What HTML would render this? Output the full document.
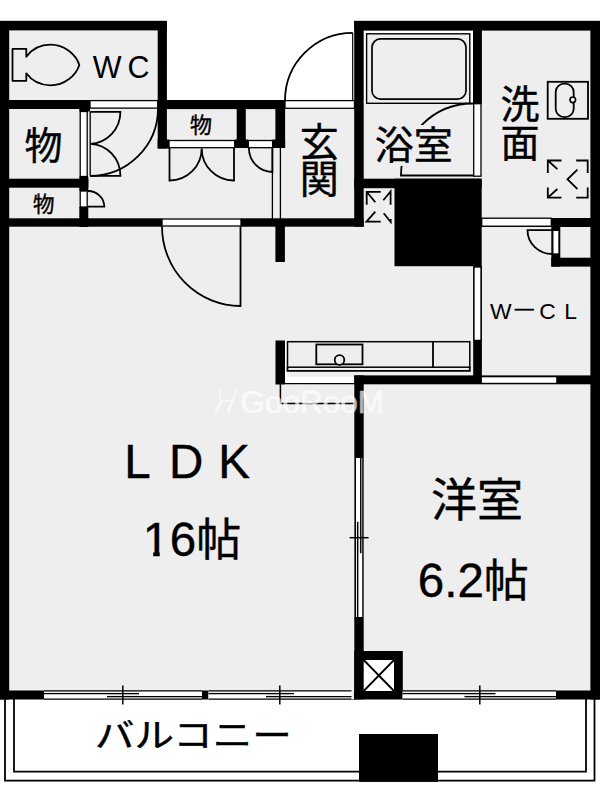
<!DOCTYPE html>
<html lang="ja">
<head>
<meta charset="utf-8">
<title>間取り図</title>
<style>
html,body{margin:0;padding:0;background:#fff;}
body{width:600px;height:803px;overflow:hidden;}
svg{display:block;}
text{font-family:"Liberation Sans","Noto Sans CJK JP",sans-serif;fill:#000;font-weight:400;stroke:#000;stroke-width:0.4px;}
.k{fill:#000;}
.g{fill:#eeeeee;}
.w{fill:#fff;stroke:#000;stroke-width:1.3;}
.l{fill:none;stroke:#000;stroke-width:1.2;}
.t{fill:none;stroke:#000;stroke-width:1.2;}
.a{fill:none;stroke:#000;stroke-width:1.8;}
</style>
</head>
<body>
<svg width="600" height="803" viewBox="0 0 600 803">
<!-- floor fill -->
<path class="g" d="M0 21H166V100H354.5V21H600V699H0Z"/>


<!-- ===== fixtures ===== -->
<g class="a" id="fixtures">
<!-- toilet -->
<path d="M26.3 56.7V48.8H12.5V80.8H26.3V73.3C32 81 41 85.3 50.5 85.3C64 85.3 76 76 79.3 65C76 54 64 44.7 50.5 44.7C41 44.7 32 49 26.3 56.7Z" style="stroke-width:1.8;stroke-linejoin:round"/>
<!-- bathtub -->
<rect x="363" y="30" width="110.5" height="74" style="fill:#fff;stroke:none"/>
<rect x="366.6" y="33.8" width="103.2" height="69.5" style="fill:#eeeeee;stroke-width:1.4"/>
<rect x="372" y="38.8" width="94" height="60.4" rx="8.5" ry="8.5" style="stroke-width:1.7"/>
<!-- wash basin -->
<rect x="547.7" y="81.8" width="40.3" height="37" style="stroke-width:1.8"/>
<rect x="555.7" y="83.7" width="18" height="33.5" rx="8.5" ry="8.5" style="stroke-width:1.8"/>
<circle cx="572.8" cy="99.8" r="2.8" style="fill:#eeeeee;stroke-width:1.6"/>
<!-- washing machine pan -->
<g style="stroke-width:1.8">
<path d="M561.5 160.5H547.8V173M547.8 160.5L557.4 169.2"/>
<path d="M576.2 160.5H587.7V173"/>
<path d="M561.5 197.7H547.8V187.6M547.8 197.7L557.4 189"/>
<path d="M576.2 197.7H587.7V187.6"/>
<path d="M577.4 169.7L567.5 179.3L577.4 189"/>
</g>
<!-- PS arrows -->
<path d="M380.7 191.8H366.7V204.7M366.7 191.8L375.3 202.3"/>
<path d="M390.6 204.7V191.5L383.3 200.3"/>
<path d="M380.7 221.6H366.5L375.3 211.7"/>
<path d="M390.7 219V222L383.7 213.3"/>
</g>
<!-- kitchen -->
<g id="kitchen">
<rect x="284.7" y="341" width="3" height="43" fill="#fff"/>
<rect x="284.7" y="377" width="70" height="6.7" fill="#fff"/>
<path class="t" d="M284.7 383.6H354.5"/>
<rect x="287.5" y="341.7" width="182.3" height="25.5" class="g" style="stroke:#000;stroke-width:1.5"/>
<path class="a" d="M287.5 367V370.8H469.8V367"/>
<path class="a" d="M433 341.7V367"/>
<rect class="a" x="316.3" y="344.5" width="46.2" height="19.8"/>
<circle class="a" cx="339.5" cy="360" r="4.8" style="fill:#eeeeee"/>
<path class="t" style="stroke-width:1.5" d="M280.4 384V403.4H354.5"/>
</g>
<!-- ===== walls ===== -->
<g class="k" id="walls">
<rect x="0" y="20.8" width="166.9" height="9.6"/>
<rect x="0" y="21" width="9.2" height="678.5"/>
<rect x="157.7" y="21" width="9.2" height="127.5"/>
<rect x="0" y="100" width="90" height="9"/>
<rect x="79.3" y="108" width="10.7" height="3.5"/>
<rect x="157.7" y="100" width="127.4" height="9.1"/>
<rect x="157.7" y="139.5" width="11.3" height="9"/>
<rect x="234.7" y="139.5" width="13.6" height="8.5"/>
<rect x="272.6" y="139.5" width="12.5" height="8.5"/>
<rect x="236.7" y="100" width="9.1" height="48"/>
<rect x="275.4" y="100" width="9.7" height="48"/>
<rect x="354.2" y="21" width="9.5" height="205.7"/>
<rect x="354.2" y="20.8" width="245.8" height="9.8"/>
<rect x="590.4" y="21" width="9.6" height="678.5"/>
<rect x="473" y="21" width="8.9" height="82.8"/>
<rect x="354.3" y="178.7" width="127.4" height="9.5"/>
<rect x="394.5" y="178.7" width="87.2" height="87.5"/>
<rect x="0" y="218.3" width="162" height="8.4"/>
<rect x="241" y="218.3" width="122.7" height="8.4"/>
<rect x="0" y="178.7" width="88.3" height="9"/>
<rect x="79.3" y="176.5" width="9" height="14.5"/>
<rect x="79.3" y="207" width="9" height="20"/>
<rect x="275.4" y="226" width="9.5" height="36"/>
<rect x="275.5" y="340.5" width="9.5" height="44"/>
<rect x="354.3" y="375.4" width="245.7" height="8.9"/>
<rect x="354.3" y="375.4" width="9.4" height="324"/>
<rect x="473.2" y="266" width="8.7" height="118"/>
<rect x="481.5" y="218" width="118.5" height="9"/>
<rect x="551.3" y="218" width="9" height="48.6"/>
<rect x="551.3" y="257.7" width="48.7" height="8.9"/>
<rect x="0" y="690.5" width="44" height="9"/>
<rect x="202" y="690.5" width="6.6" height="9"/>
<rect x="354.3" y="651" width="48.5" height="48.5"/>
<rect x="351.5" y="691" width="4" height="8.5"/>
<rect x="556" y="690.5" width="44" height="9"/>
<rect x="359" y="734" width="79" height="47.6"/>
</g>

<!-- ===== door strips / thresholds (white) ===== -->
<g class="w" id="strips">
<rect x="90" y="100.6" width="67.7" height="7.5"/>
<rect x="285" y="100.6" width="69.5" height="7.7"/>
<rect x="169" y="140.5" width="65.7" height="7.2"/>
<rect x="248.3" y="140.5" width="24.3" height="7.2"/>
<rect x="80.2" y="111.5" width="7" height="65"/>
<rect x="80.2" y="191" width="7" height="16"/>
<rect x="162" y="219" width="79" height="7"/>
<rect x="473.7" y="103.7" width="7.3" height="72.5"/>
<rect x="474" y="267" width="7" height="73.4"/>
<rect x="481.7" y="218.2" width="69.6" height="8"/>
<rect x="552.8" y="230.3" width="6.2" height="23.7"/>
<rect x="481.9" y="377.3" width="74.3" height="5.5" style="stroke:none"/>
</g>

<!-- ===== door swings ===== -->
<g class="a" id="doors">
<!-- WC door -->
<path d="M158 108.5A68 67.5 0 0 1 90 176"/>
<!-- big closet double door -->
<path d="M90.2 111.8V175.8" style="stroke-width:1.3"/>
<path d="M90.2 111.8H120.4A31 32 0 0 1 90.2 143.8A31 32 0 0 1 120.4 175.8H90.2"/>
<!-- small closet door -->
<path d="M88 206.7H104.3A16.3 15.7 0 0 0 88 191"/>
<!-- hall closet double doors -->
<path d="M169.5 148V180.5A32 32 0 0 0 201.7 148.5A32 32 0 0 0 234 180.5V148"/>
<path d="M272.4 148V172A23.5 24 0 0 1 248.9 148"/>
<!-- entrance door -->
<path d="M352.7 100.5V32.8" style="stroke-width:1.2"/>
<path d="M352.7 32.8A67.7 67.7 0 0 0 285 100.5"/>
<!-- LDK door -->
<path d="M240.5 226.5V306A78.5 79.5 0 0 1 162 226.5"/>
<!-- bath door -->
<path d="M473 103.5A72 72 0 0 0 401 175.5H473.5"/>
<!-- PS door -->
<path d="M552.5 230.2H527.5A25 23.8 0 0 0 552.5 254"/>
</g>
<!-- thin partition lines near entrance -->
<g class="t">
<path style="stroke-width:1.3" d="M272.4 148V219M280.4 148V219"/>
</g>

<!-- ===== windows ===== -->
<g id="windows">
<rect x="44" y="690.8" width="158" height="8.2" class="g"/>
<rect x="44" y="693.5" width="63" height="5.5" fill="#fff"/>
<rect x="139" y="690.8" width="63" height="5.7" fill="#fff"/>
<path class="t" style="stroke-width:1.25" d="M44 690.9H202M44 699H202M44 693.5H139M107 696.5H202"/>
<path class="t" style="stroke-width:1.5" d="M122.8 685.5V704.5"/>
<rect x="208.6" y="690.8" width="145.4" height="8.2" class="g"/>
<rect x="208.6" y="693.5" width="57.4" height="5.5" fill="#fff"/>
<rect x="294" y="690.8" width="57.5" height="5.7" fill="#fff"/>
<path class="t" style="stroke-width:1.25" d="M208.6 690.9H351.5M208.6 699H351.5M208.6 693.5H294M266 696.5H351.5"/>
<path class="t" style="stroke-width:1.5" d="M279.8 685.5V704.5"/>
<rect x="402.7" y="690.8" width="153.3" height="8.2" class="g"/>
<rect x="402.7" y="693.5" width="61.80000000000001" height="5.5" fill="#fff"/>
<rect x="495.5" y="690.8" width="60.5" height="5.7" fill="#fff"/>
<path class="t" style="stroke-width:1.25" d="M402.7 690.9H556M402.7 699H556M402.7 693.5H495.5M464.5 696.5H556"/>
<path class="t" style="stroke-width:1.5" d="M479.8 685.5V704.5"/>
<!-- pillar X -->
<rect x="363.7" y="660" width="30.3" height="31" fill="#fff"/>
<path class="a" d="M363.7 660L394 691M394 660L363.7 691"/>
<!-- sliding door LDK / bedroom -->
<rect x="354.5" y="458" width="9.3" height="159" class="g"/>
<rect x="355.3" y="458" width="5.4" height="64" fill="#fff"/>
<rect x="357.7" y="553" width="5" height="64" fill="#fff"/>
<g class="t" style="stroke-width:1.4">
<path d="M355.3 458V617M362.9 458V617M360.75 458V553.3M357.7 521.8V617"/>
<path style="stroke-width:1.5" d="M349.6 537.7H368.6"/>
</g>
</g>
<!-- ===== balcony ===== -->
<g class="a" id="balcony">
<path d="M5 699V780.7H594.5V699"/>
<path d="M14 699V771.7H586V699"/>
</g>
<rect class="k" x="359" y="734" width="79" height="47.6"/>

<!-- ===== labels ===== -->
<g id="labels">
<text x="92.8" y="77.7" font-size="30.5" style="stroke:none">W</text>
<text x="127.5" y="77.7" font-size="30.5" style="stroke:none">C</text>
<text x="24.5" y="159" font-size="38">物</text>
<text x="33" y="212" font-size="21.5">物</text>
<text x="190" y="132.5" font-size="22">物</text>
<text x="299.8" y="156" font-size="39">玄</text>
<text x="299.8" y="193.3" font-size="39">関</text>
<rect x="374" y="125" width="80" height="41" class="g"/>
<text x="374.7" y="159" font-size="39">浴室</text>
<text x="500.5" y="118.3" font-size="39">洗</text>
<text x="500.5" y="157" font-size="39">面</text>
<text x="489.9" y="318.7" font-size="22.9" style="stroke:none">W</text>
<text x="514.7" y="313.6" font-size="19" style="stroke:#000;stroke-width:0.4">—</text>
<text x="539.3" y="318.7" font-size="22.9" style="stroke:none">C</text>
<text x="564.2" y="318.7" font-size="22.9" style="stroke:none">L</text>
<text x="124.3" y="478" font-size="47.5">L</text>
<text x="169.1" y="478" font-size="47.5">D</text>
<text x="218.3" y="478" font-size="47.5">K</text>
<clipPath id="c1"><rect x="138" y="512" width="22" height="39.2"/><rect x="153.2" y="551" width="6.5" height="7"/></clipPath>
<text x="142.8" y="556.3" font-size="47.5" clip-path="url(#c1)">1</text>
<text x="169.8" y="556.3" font-size="47.5">6<tspan font-size="45">帖</tspan></text>
<text x="431" y="516" font-size="46">洋室</text>
<text x="417.8" y="597.2" font-size="47.5">6.2<tspan font-size="45">帖</tspan></text>
<text transform="translate(95,747.2) scale(1.18,1)" font-size="33.5">バルコニー</text>
</g>
<!-- watermark -->
<g id="wm" opacity="0.7">
<text x="240.5" y="413.3" font-size="31.5" style="fill:#fff;stroke:#fff;stroke-width:0.7">GooRooM</text>
<g fill="none" stroke="#fff" stroke-width="1.5" stroke-linecap="round">
<path d="M219.6 393.5C220.5 398 221 402 219.5 406C218 410.5 216.5 413.5 215.8 411.5C215 409 218 405 221.5 402.5C225 400.5 228 400.5 231.5 401"/>
<path d="M235.3 393.5C234 397 232.5 400 231.5 403C230 408 229 413.5 228 412C227 410 229.5 406 233 402.5"/>
</g>
<circle cx="219.3" cy="390" r="1.3" fill="#fff"/><circle cx="235.8" cy="390.2" r="1.3" fill="#fff"/>
</g>
</svg>
</body>
</html>
